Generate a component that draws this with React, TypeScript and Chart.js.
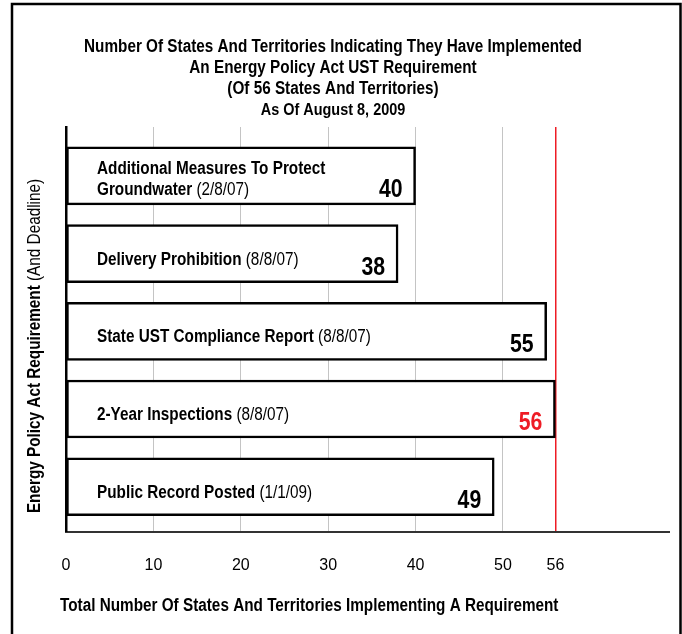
import React, { useEffect, useRef } from "react";
import { Chart, registerables } from "chart.js";

Chart.register(...registerables);

const titleLines = [
  "Number Of States And Territories Indicating They Have Implemented",
  "An Energy Policy Act UST Requirement",
  "(Of 56 States And Territories)",
  "As Of August 8, 2009",
];
const requirementLines = [
  ["Additional Measures To Protect", "Groundwater"],
  ["Delivery Prohibition"],
  ["State UST Compliance Report"],
  ["2-Year Inspections"],
  ["Public Record Posted"],
];
const deadlines = ["2/8/07", "8/8/07", "8/8/07", "8/8/07", "1/1/09"];
const statesImplementing = [40, 38, 55, 56, 49];
const xTickValues = [0, 10, 20, 30, 40, 50, 56];
const totalStates = 56;
const yTitleBold = "Energy Policy Act Requirement";
const yTitleNormal = " (And Deadline)";
const xTitle = "Total Number Of States And Territories Implementing A Requirement";

const FONT = '"Liberation Sans", Arial, sans-serif';
const RED = "#ee1c25";
const SX = 0.85; // horizontal condensation to mimic a narrow face

type Run = { text: string; bold: boolean; color?: string };

function drawRuns(
  ctx: CanvasRenderingContext2D,
  runs: Run[],
  x: number,
  y: number,
  size: number,
  align: "left" | "center" | "right",
  sx: number = SX
) {
  const widths = runs.map((r) => {
    ctx.font = `${r.bold ? "bold " : ""}${size}px ${FONT}`;
    return ctx.measureText(r.text).width;
  });
  const total = widths.reduce((a, b) => a + b, 0);
  let start = align === "left" ? 0 : align === "center" ? -total / 2 : -total;
  ctx.save();
  ctx.translate(x, y);
  ctx.scale(sx, 1);
  ctx.textAlign = "left";
  ctx.textBaseline = "middle";
  runs.forEach((r, i) => {
    ctx.font = `${r.bold ? "bold " : ""}${size}px ${FONT}`;
    ctx.fillStyle = r.color || "#000";
    ctx.fillText(r.text, start, 0);
    start += widths[i];
  });
  ctx.restore();
}

function gridColor(v: number) {
  if (v === totalStates) return RED;
  if (v === 0) return "rgba(0,0,0,0)";
  return "#c4c4c4";
}

const decorPlugin = {
  id: "decor",
  afterDraw(chart: any) {
    const ctx = chart.ctx as CanvasRenderingContext2D;
    const area = chart.chartArea;
    const meta = chart.getDatasetMeta(0);
    ctx.save();
    // outer frame
    ctx.strokeStyle = "#000";
    ctx.lineWidth = 2.5;
    ctx.beginPath();
    ctx.moveTo(12, 640);
    ctx.lineTo(12, 4);
    ctx.lineTo(680.5, 4);
    ctx.lineTo(680.5, 640);
    ctx.stroke();

    // title
    titleLines.forEach((t, i) => {
      drawRuns(ctx, [{ text: t, bold: true }], 333, 47 + i * 21, i === 3 ? 17 : 18, "center");
    });

    // y title (mixed)
    ctx.save();
    ctx.translate(35, 346);
    ctx.rotate(-Math.PI / 2);
    drawRuns(
      ctx,
      [
        { text: yTitleBold, bold: true },
        { text: yTitleNormal, bold: false },
      ],
      0,
      0,
      18,
      "center"
    );
    ctx.restore();

    // x title
    drawRuns(ctx, [{ text: xTitle, bold: true }], area.left - 6, 606, 18, "left");

    // bar labels
    meta.data.forEach((bar: any, i: number) => {
      const lines = requirementLines[i];
      const lh = 21;
      const cy = bar.y + (lines.length > 1 ? 4 : 6);
      const y0 = cy - ((lines.length - 1) * lh) / 2;
      const lx = area.left + 31;
      lines.forEach((ln, j) => {
        const runs: Run[] = [{ text: ln, bold: true }];
        if (j === lines.length - 1) runs.push({ text: ` (${deadlines[i]})`, bold: false });
        drawRuns(ctx, runs, lx, y0 + j * lh, 18, "left");
      });
      // value
      drawRuns(
        ctx,
        [
          {
            text: String(statesImplementing[i]),
            bold: true,
            color: statesImplementing[i] === totalStates ? RED : "#000",
          },
        ],
        bar.x - 13,
        bar.y + 14,
        25,
        "right"
      );
    });
    ctx.restore();
  },
};

export default function App() {
  const ref = useRef<HTMLCanvasElement | null>(null);
  useEffect(() => {
    if (!ref.current) return;
    const chart = new Chart(ref.current, {
      type: "bar",
      data: {
        datasets: [
          {
            data: statesImplementing.map((v, i) => ({ x: v, y: i })),
            backgroundColor: "#ffffff",
            borderColor: "#000000",
            borderWidth: 2.5,
            borderSkipped: false,
            barThickness: 58,
          },
        ],
      },
      options: {
        indexAxis: "y",
        responsive: false,
        animation: false,
        layout: { padding: { left: 58, right: 13, top: 127, bottom: 35 } },
        plugins: { legend: { display: false }, tooltip: { enabled: false }, title: { display: false } },
        scales: {
          x: {
            type: "linear",
            min: 0,
            max: 69,
            afterBuildTicks: (scale: any) => {
              scale.ticks = xTickValues.map((v) => ({ value: v }));
            },
            ticks: {
              autoSkip: false,
              maxRotation: 0,
              padding: 24,
              color: "#000",
              font: { family: FONT, size: 16 },
            },
            grid: {
              drawTicks: false,
              color: xTickValues.map(gridColor),
              lineWidth: xTickValues.map((v) => (v === totalStates ? 1.5 : 1)),
            },
            border: { color: "#333", width: 2 },
          },
          y: {
            type: "linear",
            reverse: true,
            offset: false,
            min: -0.63,
            max: 4.58,
            ticks: { display: false },
            grid: { display: false },
            border: { color: "#000", width: 2.5 },
          },
        },
      },
      plugins: [decorPlugin],
    });
    return () => chart.destroy();
  }, []);
  return (
    <div style={{ position: "absolute", left: 0, top: 0, width: 682, height: 634, background: "#fff" }}>
      <canvas ref={ref} width={682} height={634} />
    </div>
  );
}
